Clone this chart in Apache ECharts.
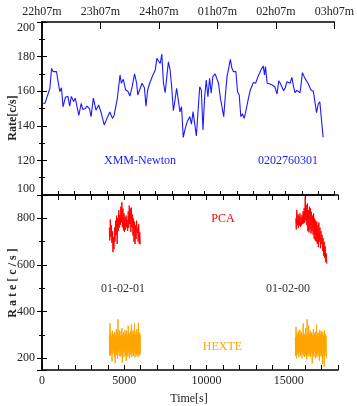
<!DOCTYPE html>
<html><head><meta charset="utf-8">
<script src="https://cdn.jsdelivr.net/npm/echarts@6/dist/echarts.min.js"></script>
<style>html,body{margin:0;padding:0;background:#fff}#c{width:357px;height:406px}</style>
</head><body><div id="c"></div>
<script>
// ---- data ----
const topTickLabels = ['22h07m','23h07m','24h07m','01h07m','02h07m','03h07m'];
const xmmTime = [0,182,486,590,687,894,991,1095,1198,1295,1441,1599,1703,1806,1946,2049,2147,2268,2414,2511,2675,2755,2919,3022,3162,3326,3484,3630,3728,3831,3934,4032,4178,4336,4439,4640,4804,4883,5005,5151,5290,5412,5552,5698,5820,5899,6020,6160,6306,6403,6507,6628,6707,6829,6975,7072,7176,7279,7376,7480,7583,7680,7784,7887,7984,8088,8191,8288,8392,8495,8593,8696,8799,8939,9103,9201,9304,9407,9505,9608,9711,9809,9912,10015,10113,10216,10319,10417,10520,10660,10782,10867,10988,11067,11189,11268,11390,11475,11597,11694,11797,11937,12040,12144,12241,12344,12448,12545,12691,12813,12892,13013,13153,13299,13500,13621,13700,13761,13865,14005,14169,14333,14412,14472,14576,14673,14776,14880,14977,15081,15184,15281,15385,15488,15586,15689,15792,15890,16036,16194,16400,16559,16705,16802,16905,17008,17106,17209,17313];
const xmmRate = [153,153,161.7,173.2,171.3,171.3,165.5,159.7,162,151,156.5,157,151.4,157,154,156,155,146,153,149.5,150,151.4,150,145.3,156,149,152,148,147,140.5,141,145,148,144.3,146,156,169.4,164.6,166.9,160.7,160,157.2,162.6,170,165,157.8,157.5,164.6,162,151.4,160.7,164.6,164,169.4,172.3,179,178,176,181.5,164.6,159.1,168,177,172.3,162.6,148.7,155,161.7,155,148,151,133.3,137.6,142.4,145.3,141,148.2,148,134.1,133.7,162.6,160.7,137.6,156.8,166.5,156.8,167.4,158.8,168.4,170,169.5,164.6,155.9,156.5,145.3,155,168.4,172.3,178.4,173.2,171.3,171.3,159.7,157.8,145.3,147,144.3,148.2,155,160.3,159.5,165,164.6,168.4,172.7,174.6,169.4,174.2,164.6,164.3,163.6,162.6,163,158.4,166,164.6,164,160.3,162,165.5,165,164.6,168,162.6,159.1,160.5,159.7,159.1,170.7,167.4,164.2,160.7,160,159.1,147.6,152.6,153.9,143.4,133.3];

const pca1Start = 4090, pca2Start = 15430, pcaStep = 32;
const pca1 = [760,705,795,720,770,695,745,655,720,668,760,700,790,728,812,690,800,745,835,760,815,772,850,782,869,762,842,748,822,742,806,752,812,762,792,746,830,760,855,776,842,742,846,762,816,726,800,700,786,690,770,712,790,735,760,700,775,690,740,688];
const pca2 = [800,752,836,770,818,758,812,768,821,764,806,770,815,775,830,778,845,782,893,790,857,770,864,745,835,740,850,752,843,735,828,745,812,730,821,712,800,705,790,700,786,690,770,676,782,700,760,672,745,690,729,660,715,640,700,630,680,612,650,605];

const hexte1Start = 4090, hexte2Start = 15400, hexteStep = 24;
const hexte1 = [300,215,350,210,310,225,295,186,318,220,305,230,290,205,312,179,300,222,325,215,308,200,367,228,302,210,320,235,298,208,315,218,330,182,300,225,312,205,296,230,322,212,305,190,318,220,300,208,340,226,310,200,298,232,316,214,345,206,302,225,320,210,308,228,350,204,300,222,315,212,325,218,298,205,352,226,310,212,305,220];
const hexte2 = [290,210,335,200,310,225,300,215,318,205,296,228,322,212,305,220,312,200,300,230,350,215,308,206,298,222,330,210,302,196,367,220,310,208,340,226,300,212,318,205,305,225,312,178,298,218,326,208,308,230,300,200,315,215,345,205,302,222,310,212,296,190,322,225,305,208,318,215,300,175,312,220,298,164,320,210,305,225,295,200];

// ---- chart ----
const FONT = 'Liberation Serif';
const lab = {fontFamily: FONT, fontSize: 12, color: '#222'};
const axLine = {show: true, lineStyle: {color: '#000', width: 1.5}};
const tick = (len) => ({show: true, inside: true, length: len, lineStyle: {color: '#000', width: 1}});
const pairs = (ts, vs) => ts.map((t, i) => [t, vs[i]]);
const binned = (start, step, vs) => vs.map((v, i) => [start + i * step, v]);

const chart = echarts.init(document.getElementById('c'), null, {renderer: 'canvas'});
chart.setOption({
  animation: false,
  backgroundColor: '#fff',
  grid: [
    {left: 42, top: 22, width: 296, height: 173},
    {left: 42, top: 195, width: 296, height: 175}
  ],
  xAxis: [
    {gridIndex: 0, type: 'value', position: 'bottom', min: 0, max: 18000, interval: 1000,
     axisLine: axLine, axisTick: tick(4), axisLabel: {show: false}, splitLine: {show: false}},
    {gridIndex: 0, type: 'value', position: 'top', min: 0, max: 18000, interval: 3600,
     axisLine: axLine, axisTick: tick(7), splitLine: {show: false},
     axisLabel: Object.assign({margin: 4, formatter: v => topTickLabels[Math.round(v / 3600)] || ''}, lab)},
    {gridIndex: 1, type: 'value', position: 'bottom', min: 0, max: 18000, interval: 1000,
     axisLine: axLine, axisTick: tick(5), splitLine: {show: false},
     axisLabel: Object.assign({margin: 5, formatter: v => (v % 5000 === 0 ? String(v) : '')}, lab)},
    {gridIndex: 1, type: 'value', position: 'top', min: 0, max: 18000, interval: 1000,
     axisLine: axLine, axisTick: tick(5), axisLabel: {show: false}, splitLine: {show: false}}
  ],
  yAxis: [
    {gridIndex: 0, type: 'value', position: 'left', min: 100, max: 200, interval: 20,
     axisLine: axLine, axisTick: tick(5), splitLine: {show: false},
     minorTick: {show: true, splitNumber: 2, length: 3, lineStyle: {color: '#000'}},
     axisLabel: Object.assign({margin: 7, verticalAlignMinLabel: 'bottom', verticalAlignMaxLabel: 'top'}, lab)},
    {gridIndex: 0, type: 'value', position: 'right', min: 100, max: 200, interval: 20,
     axisLine: axLine, axisTick: tick(5), splitLine: {show: false}, axisLabel: {show: false},
     minorTick: {show: true, splitNumber: 2, length: 3, lineStyle: {color: '#000'}}},
    {gridIndex: 1, type: 'value', position: 'left', min: 150, max: 900, splitNumber: 4,
     axisLine: axLine, axisTick: tick(5), splitLine: {show: false},
     minorTick: {show: true, splitNumber: 2, length: 3, lineStyle: {color: '#000'}},
     axisLabel: Object.assign({margin: 7, formatter: v => (v % 200 === 0 ? String(v) : '')}, lab)},
    {gridIndex: 1, type: 'value', position: 'right', min: 150, max: 900, splitNumber: 4,
     axisLine: axLine, axisTick: tick(5), splitLine: {show: false}, axisLabel: {show: false},
     minorTick: {show: true, splitNumber: 2, length: 3, lineStyle: {color: '#000'}}}
  ],
  series: [
    {type: 'line', xAxisIndex: 0, yAxisIndex: 0, data: pairs(xmmTime, xmmRate), showSymbol: false,
     lineStyle: {color: '#1a1aff', width: 1.1}},
    {type: 'line', xAxisIndex: 2, yAxisIndex: 2, data: binned(pca1Start, pcaStep, pca1), showSymbol: false,
     lineStyle: {color: '#ff0000', width: 1}},
    {type: 'line', xAxisIndex: 2, yAxisIndex: 2, data: binned(pca2Start, pcaStep, pca2), showSymbol: false,
     lineStyle: {color: '#ff0000', width: 1}},
    {type: 'line', xAxisIndex: 2, yAxisIndex: 2, data: binned(hexte1Start, hexteStep, hexte1), showSymbol: false,
     lineStyle: {color: '#ffa500', width: 1}},
    {type: 'line', xAxisIndex: 2, yAxisIndex: 2, data: binned(hexte2Start, hexteStep, hexte2), showSymbol: false,
     lineStyle: {color: '#ffa500', width: 1}}
  ],
  graphic: [
    {type: 'text', x: 12.5, y: 118, rotation: Math.PI / 2,
     style: {text: 'Rate[c/s]', font: 'bold 12px "Liberation Serif"', fill: '#222', align: 'center', verticalAlign: 'middle'}},
    {type: 'text', x: 12.5, y: 283, rotation: Math.PI / 2,
     style: {text: 'R a t e [ c / s ]', font: 'bold 12px "Liberation Serif"', fill: '#222', align: 'center', verticalAlign: 'middle'}},
    {type: 'text', x: 140, y: 161, style: {text: 'XMM-Newton', font: '12px "Liberation Serif"', fill: '#1a1aff', align: 'center', verticalAlign: 'middle'}},
    {type: 'text', x: 288, y: 161, style: {text: '0202760301', font: '12px "Liberation Serif"', fill: '#1a1aff', align: 'center', verticalAlign: 'middle'}},
    {type: 'text', x: 223, y: 219, style: {text: 'PCA', font: '12px "Liberation Serif"', fill: '#ff0000', align: 'center', verticalAlign: 'middle'}},
    {type: 'text', x: 123, y: 289, style: {text: '01-02-01', font: '12px "Liberation Serif"', fill: '#333', align: 'center', verticalAlign: 'middle'}},
    {type: 'text', x: 288, y: 289, style: {text: '01-02-00', font: '12px "Liberation Serif"', fill: '#333', align: 'center', verticalAlign: 'middle'}},
    {type: 'text', x: 222.5, y: 347, style: {text: 'HEXTE', font: '12px "Liberation Serif"', fill: '#ffa500', align: 'center', verticalAlign: 'middle'}},
    {type: 'text', x: 189, y: 399, style: {text: 'Time[s]', font: '12px "Liberation Serif"', fill: '#222', align: 'center', verticalAlign: 'middle'}}
  ]
});
</script></body></html>
